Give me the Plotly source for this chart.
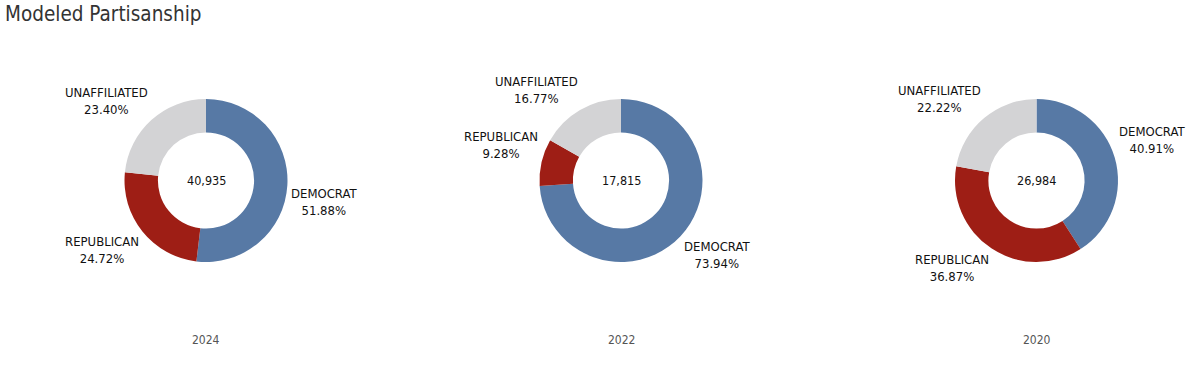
import math
import plotly.graph_objects as go

years = ["2024", "2022", "2020"]
labels = ["DEMOCRAT", "REPUBLICAN", "UNAFFILIATED"]
pct_2024 = [51.88, 24.72, 23.40]
pct_2022 = [73.94, 9.28, 16.77]
pct_2020 = [40.91, 36.87, 22.22]
totals = ["40,935", "17,815", "26,984"]
colors = ["#5779A5", "#9E1E15", "#D3D3D5"]

series = [pct_2024, pct_2022, pct_2020]
W, H = 1200, 365
centers_x = [206, 621, 1036.5]
cy = 180.5
half_w = 150
radius = 81.5
GAP = 3
FONT = "Tahoma, 'DejaVu Sans Condensed', 'DejaVu Sans', sans-serif"


def px(x):
    return x / W


def py(y):
    return 1 - y / H


fig = go.Figure()
for i, vals in enumerate(series):
    cx = centers_x[i]
    fig.add_trace(go.Pie(
        labels=labels, values=vals, hole=0.59, sort=False,
        direction="clockwise", rotation=0, automargin=False,
        marker=dict(colors=colors, line=dict(width=0)),
        textinfo="none", showlegend=False, hoverinfo="label+percent",
        domain=dict(x=[px(cx - half_w), px(cx + half_w)],
                    y=[py(cy + radius), py(cy - radius)]),
    ))
    # outside labels, anchored at each slice's mid-angle on the outer edge
    total = sum(vals)
    cum = 0.0
    for lab, v in zip(labels, vals):
        mid = (cum + v / 2) / total * 2 * math.pi
        cum += v
        dx, dy = math.sin(mid), -math.cos(mid)
        ax = cx + (radius + GAP) * dx
        ay = cy + (radius + GAP) * dy
        fig.add_annotation(
            x=px(ax), y=py(ay), xref="paper", yref="paper",
            xanchor="left" if dx >= 0 else "right",
            yanchor="top" if dy >= 0 else "bottom",
            align="center", showarrow=False, borderpad=0,
            text=f"{lab}<br>{v:.2f}%",
            font=dict(family=FONT, size=13, color="#111"))
    fig.add_annotation(x=px(cx), y=py(cy), xref="paper", yref="paper",
                       xanchor="center", yanchor="middle",
                       text=totals[i], showarrow=False,
                       font=dict(family=FONT, size=12.5, color="#111"))
    fig.add_annotation(x=px(cx), y=py(340), xref="paper", yref="paper",
                       xanchor="center", yanchor="middle",
                       text=years[i], showarrow=False,
                       font=dict(family=FONT, size=12, color="#555"))

fig.add_annotation(x=px(3), y=py(14), xref="paper", yref="paper",
                   xanchor="left", yanchor="middle",
                   text="Modeled Partisanship", showarrow=False,
                   font=dict(family=FONT, size=20.5, color="#333"))

fig.update_layout(width=W, height=H,
                  margin=dict(l=0, r=0, t=0, b=0, pad=0, autoexpand=False),
                  paper_bgcolor="white", plot_bgcolor="white")
fig.write_html("out.html", config={"displayModeBar": False},
               post_script="document.body.style.margin='0px';")
